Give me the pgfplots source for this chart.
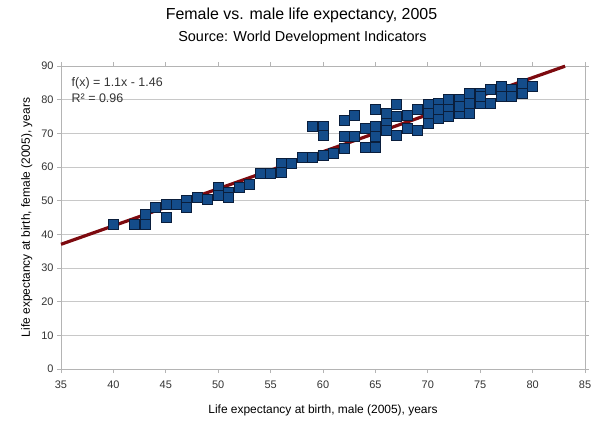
\documentclass[border=0pt]{standalone}
\usepackage{pgfplots}
\pgfplotsset{compat=1.18}
\usepackage{fontspec}
\setmainfont{Liberation Sans}
\definecolor{mk}{RGB}{20,76,138}
\definecolor{mkb}{RGB}{10,30,60}
\definecolor{trend}{RGB}{125,10,15}
\definecolor{gridc}{RGB}{200,200,200}
\definecolor{axc}{RGB}{180,180,180}
\begin{document}
\begin{tikzpicture}[x=1bp,y=1bp]
\useasboundingbox (0,0) rectangle (600,427);
\node[font=\fontsize{16}{18}\selectfont] at (301.5,412) {Female vs. male life expectancy, 2005};
\node[font=\fontsize{14.5}{16}\selectfont] at (302.5,389) {Source: World Development Indicators};
\begin{axis}[
  at={(61bp,58bp)}, anchor=south west,
  scale only axis, width=524bp, height=303bp,
  xmin=35, xmax=85, ymin=0, ymax=90,
  xtick={35,40,...,85}, ytick={0,10,...,90},
  ymajorgrids, grid style={gridc, line width=0.8pt},
  axis line style={axc, line width=0.8pt},
  tick style={axc, line width=0.8pt},
  tick align=outside, major tick length=4bp,
  /pgf/number format/assume math mode=true,
  ticklabel style={font=\fontsize{11}{13}\selectfont, text=black!80},
  xticklabel style={yshift=-4bp},
  xlabel={Life expectancy at birth, male (2005), years},
  ylabel={Life expectancy at birth, female (2005), years},
  label style={font=\fontsize{12}{14}\selectfont},
  xlabel style={yshift=-10bp},
  ylabel style={yshift=2bp},
  clip=false,
]
\addplot[only marks, mark=square*, mark size=5bp, mark options={fill=mk, draw=mkb, line width=0.6pt}] coordinates {
(40,43) (42,43) (43,43) (43,46) (44,48) (45,49) (45,45) (46,49) (47,50) (47,48)
(48,51) (49,50.5) (50,54) (50,51.5) (51,52.5) (51,51) (52,54) (53,55) (54,58) (55,58)
(56,61) (56,58.5) (57,61) (58,63) (59,63) (59,72) (60,72) (60,69.5) (60,63.5) (61,64)
(62,74) (62,69) (62,65.5) (63,75.5) (63,69) (64,71.5) (64,66) (65,77) (65,72) (65,69)
(65,66) (66,76) (66,73) (66,71) (67,78.5) (67,75) (67,69.5) (68,75.5) (68,71.5) (69,77)
(69,71) (70,78.5) (70,73) (70,76) (71,79) (71,74.5) (71,77) (72,80) (72,77) (72,75)
(73,80) (73,76) (73,78) (74,82) (74,79) (74,76) (75,82) (75,79) (75,81) (76,83)
(76,79) (77,84) (77,81) (78,83) (78,81) (79,85) (79,82) (80,84)
};
\addplot[trend, line width=3.2bp] coordinates {(35,37.04) (83.1,89.95)};
\node[anchor=west, align=left, font=\fontsize{12.5}{16}\selectfont, text=black!80, inner sep=0pt] at (rel axis cs:0.02,0.92) {f(x) = 1.1x - 1.46\\R² = 0.96};
\end{axis}
\end{tikzpicture}
\end{document}
